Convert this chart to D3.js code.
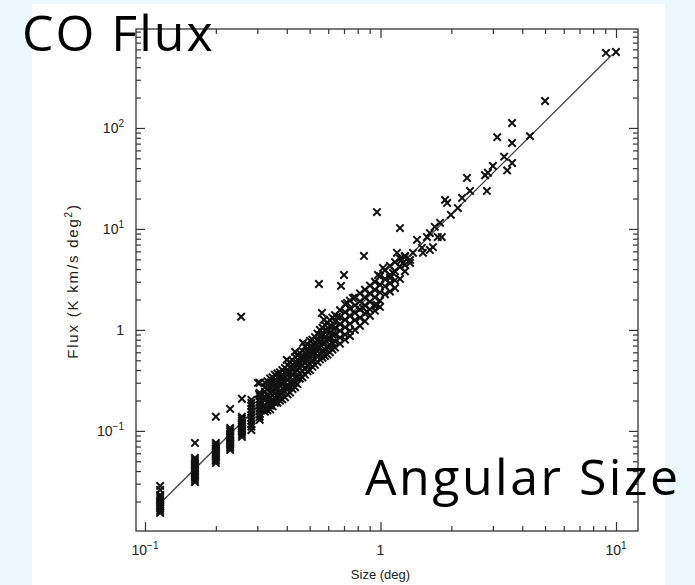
<!DOCTYPE html>
<html>
<head>
<meta charset="utf-8">
<script src="https://cdn.jsdelivr.net/npm/d3@7"></script>
<style>
  body { margin: 0; background: #ebf8fd; }
  svg { display: block; }
</style>
</head>
<body>
<div id="chart"></div>
<script>
//quantised sizes at the small end: each column holds its fluxes
const colSizes = [0.116, 0.163, 0.200, 0.230, 0.258, 0.283, 0.307]
const colFluxes = [
  [0.0285, 0.0260, 0.0232, 0.0222, 0.0212, 0.0202, 0.0194, 0.0185, 0.0177, 0.0169, 0.0161, 0.0154],
  [0.076, 0.0540, 0.0516, 0.0493, 0.0471, 0.0450, 0.0430, 0.0411, 0.0393, 0.0375, 0.0358, 0.0342, 0.0327, 0.0312],
  [0.138, 0.0760, 0.0726, 0.0695, 0.0664, 0.0634, 0.0605, 0.0578, 0.0553, 0.0528, 0.0505, 0.0482],
  [0.165, 0.107, 0.102, 0.0978, 0.0934, 0.0892, 0.0853, 0.0814, 0.0778, 0.0743, 0.0710, 0.0679, 0.0648],
  [0.208, 0.138, 0.132, 0.126, 0.120, 0.115, 0.110, 0.105, 0.100, 0.0955, 0.0912, 0.0872],
  [0.203, 0.189, 0.177, 0.165, 0.154, 0.144, 0.135, 0.126, 0.117, 0.110, 0.102],
  [0.299, 0.232, 0.238, 0.222, 0.207, 0.194, 0.181, 0.169, 0.158, 0.147, 0.138, 0.129]
]

//the dense band of clouds, by size
const bandSizes = [0.323, 0.340, 0.356, 0.374, 0.393, 0.413, 0.434, 0.455, 0.478, 0.502,
  0.527, 0.553, 0.581, 0.610, 0.641, 0.673, 0.707, 0.742, 0.779, 0.818,
  0.859, 0.902, 0.947, 0.995, 1.045, 1.097, 1.152, 1.21, 1.27]
const bandFluxes = [
  [0.30, 0.27, 0.245, 0.22, 0.20, 0.18, 0.165, 0.155],
  [0.33, 0.30, 0.27, 0.24, 0.215, 0.195, 0.178, 0.163],
  [0.36, 0.32, 0.29, 0.26, 0.235, 0.21, 0.19],
  [0.38, 0.34, 0.31, 0.28, 0.25, 0.225, 0.20],
  [0.42, 0.38, 0.34, 0.30, 0.27, 0.245, 0.215],
  [0.48, 0.43, 0.38, 0.34, 0.30, 0.27, 0.24],
  [0.54, 0.48, 0.43, 0.38, 0.34, 0.30, 0.27],
  [0.59, 0.53, 0.47, 0.42, 0.37, 0.33],
  [0.68, 0.60, 0.53, 0.47, 0.41, 0.36],
  [0.78, 0.69, 0.61, 0.53, 0.46, 0.40],
  [0.85, 0.75, 0.66, 0.58, 0.51, 0.45],
  [1.0, 0.88, 0.77, 0.67, 0.58, 0.51],
  [1.12, 0.98, 0.85, 0.74, 0.64, 0.55],
  [1.25, 1.09, 0.95, 0.82, 0.71, 0.60],
  [1.40, 1.21, 1.05, 0.90, 0.77, 0.67],
  [1.57, 1.34, 1.14, 0.98, 0.84, 0.73],
  [1.80, 1.50, 1.26, 1.06, 0.90, 0.80],
  [1.95, 1.62, 1.37, 1.15, 0.98, 0.87],
  [2.10, 1.75, 1.48, 1.25, 1.0],
  [2.3, 1.92, 1.60, 1.32, 1.10],
  [2.5, 2.1, 1.75, 1.45, 1.22],
  [2.75, 2.3, 1.9, 1.6, 1.38],
  [3.0, 2.5, 2.1, 1.75, 1.55],
  [3.4, 2.8, 2.35, 1.95],
  [3.9, 3.2, 2.7, 2.25],
  [4.3, 3.5, 2.9, 2.4],
  [4.7, 3.8, 3.1, 2.6],
  [5.1, 4.2, 3.2],
  [5.4, 4.4, 3.8]
]

//more clouds in between, where the band is solid
const midSizes = [0.331, 0.348, 0.365, 0.383, 0.403, 0.423, 0.444, 0.466, 0.490, 0.514,
  0.540, 0.567, 0.595, 0.625]
const midFluxes = [
  [0.31, 0.26, 0.225, 0.19, 0.16],
  [0.34, 0.29, 0.245, 0.205, 0.175],
  [0.37, 0.31, 0.265, 0.225, 0.19],
  [0.40, 0.34, 0.29, 0.24, 0.205],
  [0.45, 0.38, 0.32, 0.27, 0.23],
  [0.50, 0.42, 0.36, 0.30, 0.26],
  [0.56, 0.47, 0.40, 0.34, 0.29],
  [0.62, 0.53, 0.45, 0.39, 0.34],
  [0.72, 0.61, 0.52, 0.45, 0.39],
  [0.80, 0.68, 0.58, 0.50, 0.43],
  [0.92, 0.78, 0.66, 0.56, 0.48],
  [1.05, 0.88, 0.74, 0.62, 0.53],
  [1.18, 0.98, 0.82, 0.68, 0.57],
  [1.32, 1.08, 0.90, 0.75, 0.64]
]

//single clouds off the band and at the large end
const sizes = [0.256, 0.302, 0.305, 0.400, 0.434, 0.469, 0.548, 0.564, 0.575, 0.654,
  0.680, 0.700, 0.721, 0.764, 0.843, 0.851, 0.877, 0.966, 0.995, 0.966,
  0.976, 1.025, 1.097, 1.13, 1.175, 1.21, 1.246, 1.335, 1.335, 1.23,
  1.27, 1.374, 1.429, 1.50, 1.515, 1.575, 1.62, 1.62, 1.67, 1.70,
  1.75, 1.82, 1.79, 1.88, 1.92, 1.99, 2.13, 2.22, 2.33, 2.40,
  2.78, 2.83, 2.86, 3.0, 3.13, 3.35, 3.45, 3.62, 3.62, 3.62,
  4.31, 5.0, 9.07, 10.0]
const fluxes = [1.35, 0.299, 0.232, 0.505, 0.606, 0.743, 2.85, 1.47, 1.26, 1.35,
  2.73, 3.50, 1.85, 2.07, 1.65, 5.4, 1.51, 1.77, 1.69, 14.7,
  3.50, 4.11, 3.27, 3.67, 5.8, 10.2, 4.61, 4.61, 4.93, 4.93,
  5.3, 5.8, 7.8, 6.5, 5.8, 8.3, 9.1, 6.2, 6.6, 10.5,
  8.3, 8.3, 11.5, 19.4, 18.1, 13.8, 16.1, 20.3, 32, 23.8,
  34, 23.8, 36, 42, 81, 52, 38, 45, 71, 112,
  83, 185, 553, 565]

//fitted power law, end points
const fitSizes = [0.119, 9.6]
const fitFluxes = [0.0203, 528]

const xTickLabels = [[0.1, '10', '\u22121'], [1, '1', ''], [10, '10', '1']]
const yTickLabels = [[0.1, '10', '\u22121'], [1, '1', ''], [10, '10', '1'], [100, '10', '2']]

//flatten the point sets
let points = []
colSizes.forEach((s, i) => colFluxes[i].forEach(f => points.push([s, f])))
bandSizes.forEach((s, i) => bandFluxes[i].forEach(f => points.push([s, f])))
midSizes.forEach((s, i) => midFluxes[i].forEach(f => points.push([s, f])))
sizes.forEach((s, i) => points.push([s, fluxes[i]]))

const margin = {top: 29, left: 136},
  width = 502,
  height = 502

const svg = d3.select('#chart')
  .append('svg')
  .attr('width', 695)
  .attr('height', 585)

//white slide panel
svg.append('rect')
  .attr('x', 32).attr('y', 4)
  .attr('width', 633).attr('height', 581)
  .attr('fill', '#ffffff')

const g = svg.append('g')
  .attr('transform', `translate(${margin.left}, ${margin.top})`)

const x = d3.scaleLog().domain([0.0916, 12.4]).range([0, width])
const y = d3.scaleLog().domain([0.0102, 955]).range([height, 0])

const inX = v => v >= x.domain()[0] && v <= x.domain()[1]
const inY = v => v >= y.domain()[0] && v <= y.domain()[1]
const isMajor = v => Math.abs(Math.log10(v) - Math.round(Math.log10(v))) < 1e-6

const xt = x.ticks().filter(inX)
const yt = y.ticks().filter(inY)

//inward ticks on all four sides
function drawTicks(axisFn, scale, vals, transform) {
  let major = vals.filter(isMajor), minor = vals.filter(v => !isMajor(v))
  ;[[major, 9], [minor, 5]].forEach(([v, len]) => {
    let a = g.append('g')
      .attr('transform', transform)
      .call(axisFn(scale).tickValues(v).tickSizeInner(-len).tickSizeOuter(0).tickFormat(''))
    a.select('.domain').remove()
    a.selectAll('line').attr('stroke', '#333').attr('stroke-width', 1.2)
  })
}
drawTicks(d3.axisBottom, x, xt, `translate(0, ${height})`)
drawTicks(d3.axisTop, x, xt, 'translate(0, 0)')
drawTicks(d3.axisLeft, y, yt, 'translate(0, 0)')
drawTicks(d3.axisRight, y, yt, `translate(${width}, 0)`)

//frame
g.append('rect')
  .attr('width', width).attr('height', height)
  .attr('fill', 'none')
  .attr('stroke', '#333')
  .attr('stroke-width', 1.3)

//tick labels
const xl = g.selectAll('.xl')
  .data(xTickLabels)
  .join('text')
  .attr('x', d => x(d[0]))
  .attr('y', height + 24)
  .attr('text-anchor', 'middle')
  .style('font-family', 'Liberation Sans, Arial, sans-serif')
  .style('font-size', '14px')
  .attr('fill', '#222')
xl.append('tspan').text(d => d[1])
xl.append('tspan').attr('dy', -6).style('font-size', '10px').text(d => d[2])

const yl = g.selectAll('.yl')
  .data(yTickLabels)
  .join('text')
  .attr('x', -12)
  .attr('y', d => y(d[0]) + 5)
  .attr('text-anchor', 'end')
  .style('font-family', 'Liberation Sans, Arial, sans-serif')
  .style('font-size', '14px')
  .attr('fill', '#222')
yl.append('tspan').text(d => d[1])
yl.append('tspan').attr('dy', -6).style('font-size', '10px').text(d => d[2])

//axis titles
g.append('text')
  .attr('x', x(1))
  .attr('y', height + 48)
  .attr('text-anchor', 'middle')
  .style('font-family', 'Liberation Sans, Arial, sans-serif')
  .style('font-size', '13px')
  .attr('fill', '#222')
  .text('Size (deg)')

const yTitle = g.append('text')
  .attr('transform', `translate(-58, ${height / 2 + 1}) rotate(-90)`)
  .attr('text-anchor', 'middle')
  .style('font-family', 'Liberation Sans, Arial, sans-serif')
  .style('font-size', '15px')
  .style('letter-spacing', '1.8px')
  .attr('fill', '#222')
yTitle.append('tspan').text('Flux (K km/s deg')
yTitle.append('tspan').attr('dy', -6).style('font-size', '10px').text('2')
yTitle.append('tspan').attr('dy', 6).text(')')

//fit line
g.append('line')
  .attr('x1', x(fitSizes[0])).attr('y1', y(fitFluxes[0]))
  .attr('x2', x(fitSizes[1])).attr('y2', y(fitFluxes[1]))
  .attr('stroke', '#444')
  .attr('stroke-width', 1.3)

//the clouds as crosses
g.selectAll('.pt')
  .data(points)
  .join('path')
  .attr('class', 'pt')
  .attr('transform', d => `translate(${x(d[0])}, ${y(d[1])})`)
  .attr('d', 'M-3.7,-3.7L3.7,3.7M-3.7,3.7L3.7,-3.7')
  .attr('stroke', '#111')
  .attr('stroke-width', 2)
  .attr('fill', 'none')

//slide captions on top
svg.append('text')
  .attr('x', 22).attr('y', 51)
  .style('font-family', 'Open Sans, sans-serif')
  .style('font-size', '50px')
  .style('letter-spacing', '2px')
  .attr('fill', '#000')
  .text('CO Flux')

svg.append('text')
  .attr('x', 365).attr('y', 495)
  .style('font-family', 'Open Sans, sans-serif')
  .style('font-size', '50px')
  .style('letter-spacing', '2.5px')
  .attr('fill', '#000')
  .text('Angular Size')
</script>
</body>
</html>
